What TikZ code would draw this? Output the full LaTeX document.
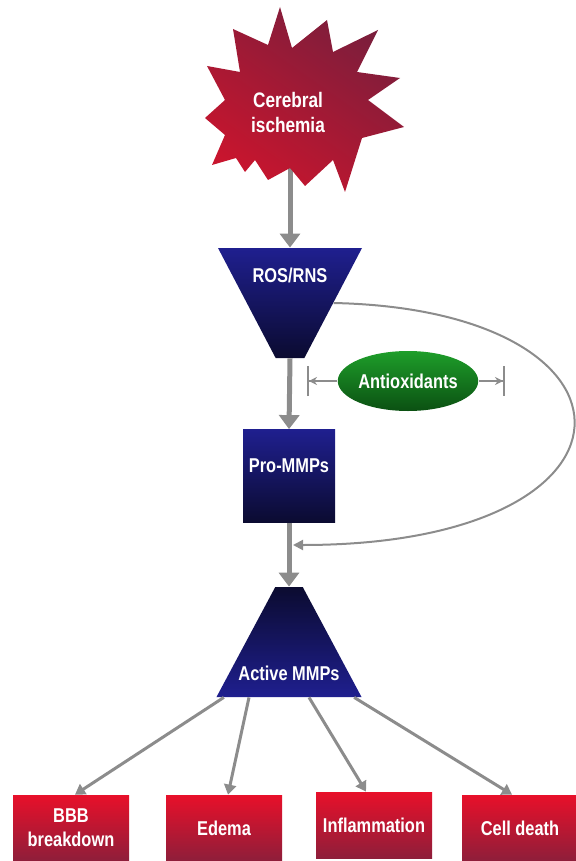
\documentclass[tikz,border=0pt]{standalone}
\usepackage{fontspec}
\setmainfont{Liberation Sans}[FakeStretch=0.82]
\usetikzlibrary{arrows.meta,shapes.geometric,backgrounds}

\definecolor{flowgray}{HTML}{8C8C8C}
\definecolor{starred}{HTML}{C8152E}
\definecolor{stardark}{HTML}{7A1E3C}
\definecolor{navytop}{HTML}{1F1F8F}
\definecolor{navyend}{HTML}{0B0B30}
\definecolor{greentop}{HTML}{1E9E2A}
\definecolor{greenend}{HTML}{0B5012}
\definecolor{boxred}{HTML}{E8102A}
\definecolor{boxdark}{HTML}{8E1E3A}

\begin{document}
\begin{tikzpicture}[x=0.5pt,y=-0.5pt,
    flow/.style={draw=flowgray,line width=2.5pt,-{Triangle[width=10pt,length=7pt]}},
    thinflow/.style={draw=flowgray,line width=1.5pt,-{Triangle[width=6pt,length=5pt]}},
    feedback/.style={draw=flowgray,line width=1pt,-{Triangle[width=5pt,length=5pt]}},
    inhib/.style={draw=flowgray,line width=1pt,-{Stealth[width=4pt,length=4pt]Bar[width=15pt]}},
    txt/.style={text=white,font=\bfseries\fontsize{10}{12}\selectfont,align=center},
    bluebox/.style={draw=none,top color=navytop,bottom color=navyend},
    redbox/.style={draw=none,top color=boxred,bottom color=boxdark,
                   minimum width=58pt,minimum height=33pt,inner sep=0pt}]
  \useasboundingbox (0,0) rectangle (576,861);

  % cause
  \shade[top color=stardark,bottom color=starred,shading angle=-35]
    (280,7) -- (292,48) -- (327,20) -- (333,52) -- (378,30) -- (357,72)
    -- (400,78) -- (368,100) -- (404,127) -- (362,138) -- (345,192) -- (333,160)
    -- (305,186) -- (290,168) -- (268,180) -- (255,160) -- (245,172) -- (236,158)
    -- (212,165) -- (225,135) -- (205,118) -- (225,100) -- (207,66) -- (240,72)
    -- (233,29) -- (268,45) -- cycle;
  \node[txt,font=\bfseries\fontsize{10.5}{12.5}\selectfont] (star) at (288,112) {Cerebral\\ischemia};

  % oxidants and MMPs
  \node[trapezium,shape border rotate=180,trapezium stretches=true,trapezium angle=74,
        minimum width=72pt,minimum height=55pt,inner sep=1pt,bluebox] (ros) at (290,303) {\strut};
  \node[txt] (rostxt) at (290,275) {ROS/RNS};

  \node[rectangle,minimum width=46pt,minimum height=46.5pt,inner sep=0pt,bluebox] (pro) at (289,476) {};
  \node[txt] (protxt) at (289,466) {Pro-MMPs};

  \node[trapezium,trapezium stretches=true,trapezium angle=73,
        minimum width=72.5pt,minimum height=55pt,inner sep=1pt,
        draw=none,top color=navyend,bottom color=navytop] (act) at (289,642) {\strut};
  \node[txt] (acttxt) at (289,673) {Active MMPs};

  \node[ellipse,minimum width=65pt,minimum height=30pt,inner sep=0pt,draw=none,
        top color=greentop,bottom color=greenend,txt] (anti) at (408,381) {Antioxidants};
  \coordinate (lbar) at (307,381);
  \coordinate (rbar) at (505,381);
  \coordinate (join) at (293,545);

  % effects
  \node[redbox,txt] (bbb)   at (71,828)  {BBB\\breakdown};
  \node[redbox,txt] (edema) at (224,828) {Edema};
  \node[redbox,txt] (infl)  at (374,825) {Inflammation};
  \node[redbox,txt] (death) at (520,828) {Cell death};

  \begin{scope}[on background layer]
    \draw[flow] (ros.north |- star.south) -- (ros.north);
  \end{scope}
  \draw[flow] (ros.south) -- (pro.north);
  \draw[flow] (pro.south) -- (act.north);
  \draw[feedback] (ros.east) .. controls (660,310) and (660,545) .. (join);
  \draw[inhib] (anti.west) -- (lbar);
  \draw[inhib] (anti.east) -- (rbar);

  \draw[thinflow] ([xshift=4pt]act.bottom left corner) -- ([xshift=2pt]bbb.north);
  \draw[thinflow] ([xshift=-20pt]act.south) -- ([xshift=2pt]edema.north);
  \draw[thinflow] ([xshift=10pt]act.south) -- ([xshift=-4pt]infl.north);
  \draw[thinflow] ([xshift=-4pt]act.bottom right corner) -- ([xshift=-4pt]death.north);
\end{tikzpicture}
\end{document}
